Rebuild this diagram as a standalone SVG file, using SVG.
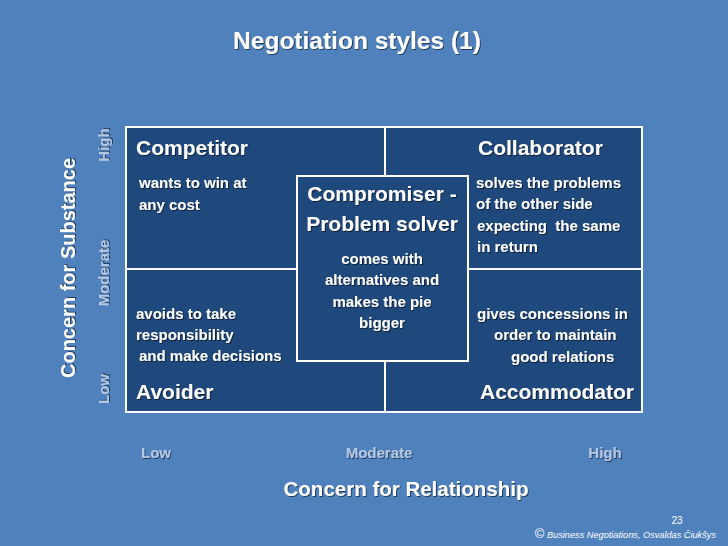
<svg xmlns="http://www.w3.org/2000/svg" width="728" height="546" viewBox="0 0 728 546">
<defs>
<filter id="sh" x="-10%" y="-20%" width="120%" height="140%">
<feDropShadow dx="1" dy="1" stdDeviation="0.6" flood-color="#000" flood-opacity="0.55"/>
</filter>
</defs>
<style>
.cell{fill:#1F487D;stroke:#fff;stroke-width:2}
text{font-family:"Liberation Sans",Arial,sans-serif;font-weight:bold;fill:#fff}
.t{filter:url(#sh)}
.h{font-size:21px}
.b{font-size:15px}
.ax{font-size:15px;fill:#B4C8E4}
.n{font-size:10px;font-weight:normal}
.ft{font-size:9.2px;font-weight:normal;font-style:italic}
</style>
<rect width="728" height="546" fill="#4F81BD"/>
<text class="t" x="357" y="49" font-size="24.5" text-anchor="middle">Negotiation styles (1)</text>

<g id="competitor">
<rect class="cell" x="126" y="127" width="259" height="142"/>
<text class="t h" x="136" y="155">Competitor</text>
<text class="t b" x="139" y="188">wants to win at</text>
<text class="t b" x="139" y="210">any cost</text>
</g>
<g id="collaborator">
<rect class="cell" x="385" y="127" width="257" height="142"/>
<text class="t h" x="478" y="155">Collaborator</text>
<text class="t b" x="476" y="188">solves the problems</text>
<text class="t b" x="476" y="209">of the other side</text>
<text class="t b" x="477" y="231" xml:space="preserve">expecting  the same</text>
<text class="t b" x="477" y="252">in return</text>
</g>
<g id="avoider">
<rect class="cell" x="126" y="269" width="259" height="143"/>
<text class="t b" x="136" y="319">avoids to take</text>
<text class="t b" x="136" y="340">responsibility</text>
<text class="t b" x="139" y="361">and make decisions</text>
<text class="t h" x="136" y="399">Avoider</text>
</g>
<g id="accommodator">
<rect class="cell" x="385" y="269" width="257" height="143"/>
<text class="t b" x="477" y="319">gives concessions in</text>
<text class="t b" x="494" y="340">order to maintain</text>
<text class="t b" x="511" y="362">good relations</text>
<text class="t h" x="480" y="399">Accommodator</text>
</g>
<g id="compromiser">
<rect class="cell" x="297" y="176" width="171" height="185"/>
<text class="t h" x="382" y="201" text-anchor="middle">Compromiser -</text>
<text class="t h" x="382" y="231" text-anchor="middle">Problem solver</text>
<text class="t b" x="382" y="264" text-anchor="middle">comes with</text>
<text class="t b" x="382" y="285" text-anchor="middle">alternatives and</text>
<text class="t b" x="382" y="307" text-anchor="middle">makes the pie</text>
<text class="t b" x="382" y="328" text-anchor="middle">bigger</text>
</g>

<g id="y-axis">
<text class="t" transform="translate(75,268) rotate(-90)" font-size="20" text-anchor="middle">Concern for Substance</text>
<text class="t ax" transform="translate(109,145) rotate(-90)" text-anchor="middle">High</text>
<text class="t ax" transform="translate(109,273) rotate(-90)" text-anchor="middle">Moderate</text>
<text class="t ax" transform="translate(109,389) rotate(-90)" text-anchor="middle">Low</text>
</g>
<g id="x-axis">
<text class="t ax" x="141" y="458">Low</text>
<text class="t ax" x="379" y="458" text-anchor="middle">Moderate</text>
<text class="t ax" x="605" y="458" text-anchor="middle">High</text>
<text class="t" x="406" y="496" font-size="20.5" text-anchor="middle">Concern for Relationship</text>
</g>
<text class="n" x="677" y="524" text-anchor="middle">23</text>
<text class="ft" x="716" y="538" text-anchor="end"><tspan font-size="13" font-style="normal">©</tspan> Business Negotiations, Osvaldas Čiukšys</text>
</svg>
